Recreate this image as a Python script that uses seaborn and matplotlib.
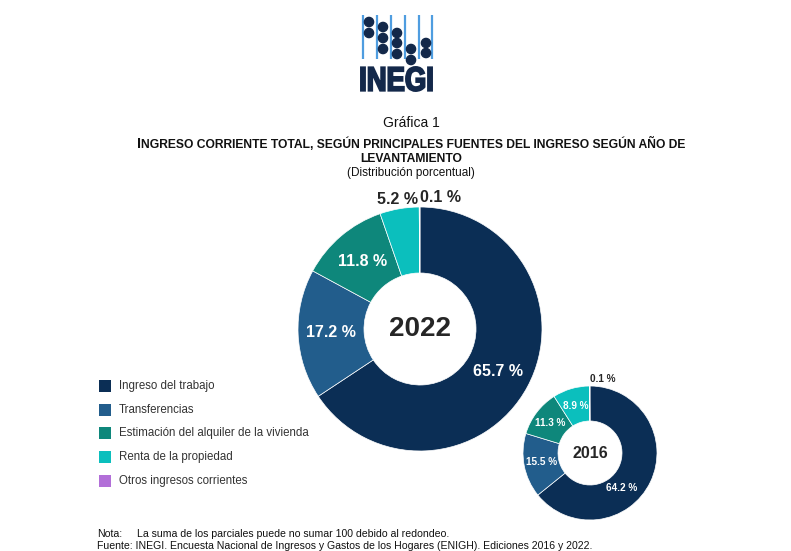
import numpy as np
import matplotlib
matplotlib.use("Agg")
import matplotlib.pyplot as plt
import seaborn as sns
from matplotlib.patches import Circle, Rectangle, PathPatch
from matplotlib.textpath import TextPath
from matplotlib.font_manager import FontProperties
from matplotlib.transforms import Affine2D

# data
categories = ["Ingreso del trabajo", "Transferencias",
              "Estimación del alquiler de la vivienda",
              "Renta de la propiedad", "Otros ingresos corrientes"]
values_2022 = [65.7, 17.2, 11.8, 5.2, 0.1]
values_2016 = [64.2, 15.5, 11.3, 8.9, 0.1]
labels_2022 = ["65.7 %", "17.2 %", "11.8 %", "5.2 %", "0.1 %"]
labels_2016 = ["64.2 %", "15.5 %", "11.3 %", "8.9 %", "0.1 %"]
colors = ["#0b2e55", "#225d8c", "#0e877b", "#0bbfbd", "#b26fd8"]

sns.set_theme(style="white")
plt.rcParams["font.family"] = ["Liberation Sans", "DejaVu Sans"]

W, H = 791, 551
fig = plt.figure(figsize=(W / 100, H / 100), dpi=100)
ax = fig.add_axes([0, 0, 1, 1])
renderer = fig.canvas.get_renderer()


def sy(y):
    # screen y (from top) -> axes y
    return H - y


def text_w(s, size, weight="bold"):
    prop = FontProperties(family="Liberation Sans", weight=weight, size=size)
    w, _, _ = renderer.get_text_width_height_descent(s, prop, ismath=False)
    return w


def drop_first(ax, xc, y, text, big, small):
    # title starts with a slightly bigger first letter
    w1 = text_w(text[0], big)
    w2 = text_w(text[1:], small)
    x = xc - (w1 + w2) / 2
    ax.text(x, y, text[0], ha="left", va="baseline", fontsize=big,
            fontweight="bold", color="#111")
    ax.text(x + w1 + 0.5, y, text[1:], ha="left", va="baseline", fontsize=small,
            fontweight="bold", color="#111")


def draw_logo(ax):
    for x in [363, 377, 391, 405, 419, 432]:
        ax.plot([x, x], [sy(15), sy(59)], color="#4f9de0", lw=1.6, solid_capstyle="butt")
    dots = [(369, 22), (369, 33), (383, 27), (383, 38), (383, 49),
            (397, 33), (397, 43), (397, 54), (411, 49), (411, 60),
            (426, 43), (426, 53)]
    for x, y in dots:
        ax.add_patch(Circle((x, sy(y)), 4.6, color="#13284a", zorder=3))
    tp = TextPath((0, 0), "INEGI", size=10,
                  prop=FontProperties(family="Liberation Sans", weight="bold"))
    bb = tp.get_extents()
    sx = (432 - 361) / bb.width
    syy = (91 - 67) / bb.height
    tr = Affine2D().translate(-bb.x0, -bb.y0).scale(sx, syy).translate(361, sy(91))
    ax.add_patch(PathPatch(tr.transform_path(tp), facecolor="#13284a",
                           edgecolor="#13284a", lw=1.4))


def donut(ax, values, labels, center, R, r_in, year, fs, yfs, overrides):
    cx, cy = center
    wedges, _ = ax.pie(values, colors=colors, startangle=90, counterclock=False,
                       radius=R, center=(cx, cy),
                       wedgeprops=dict(width=R - r_in, edgecolor="white", linewidth=0.5))
    for i, w in enumerate(wedges):
        mid = np.deg2rad((w.theta1 + w.theta2) / 2)
        rr, ha, col, dang = overrides.get(i, ((R + r_in) / 2, "center", "white", 0))
        mid += np.deg2rad(dang)
        ax.text(cx + rr * np.cos(mid), cy + rr * np.sin(mid), labels[i],
                ha=ha, va="center", color=col, fontsize=fs, fontweight="bold")
    ax.text(cx, cy, year, ha="center", va="center", fontsize=yfs,
            fontweight="bold", color="#262626")


draw_logo(ax)

ax.text(411, sy(123), "Gráfica 1", ha="center", va="center", fontsize=10, color="#111")
drop_first(ax, 411, sy(147.5),
           "INGRESO CORRIENTE TOTAL, SEGÚN PRINCIPALES FUENTES DEL INGRESO SEGÚN AÑO DE",
           10.2, 8.7)
ax.text(411, sy(162.5), "LEVANTAMIENTO", ha="center", va="baseline",
        fontsize=8.7, fontweight="bold", color="#111")
ax.text(411, sy(173), "(Distribución porcentual)", ha="center", va="center",
        fontsize=8.5, color="#111")

donut(ax, values_2022, labels_2022, (420, sy(329)), 122, 56, "2022", 11.5, 20,
      {3: (131, "center", "#262626", 0), 4: (132, "left", "#262626", 0)})
donut(ax, values_2016, labels_2016, (590, sy(453)), 67, 32, "2016", 7.2, 11.5,
      {0: (47, "center", "white", -22), 4: (74, "left", "#262626", 0)})

# legend
for i, name in enumerate(categories):
    y = sy(386 + i * 23.7)
    ax.add_patch(Rectangle((99, y - 6), 12, 12, color=colors[i], lw=0))
    ax.text(119, y, name, ha="left", va="center", fontsize=8.3, color="#333")

ax.text(97, sy(534), "Nota:", ha="left", va="center", fontsize=7.6, color="#111")
ax.text(137, sy(534), "La suma de los parciales puede no sumar 100 debido al redondeo.",
        ha="left", va="center", fontsize=7.6, color="#111")
ax.text(97, sy(546), "Fuente: INEGI. Encuesta Nacional de Ingresos y Gastos de los Hogares (ENIGH). Ediciones 2016 y 2022.",
        ha="left", va="center", fontsize=7.6, color="#111")

# pie() resets the limits, so set them last
ax.set_aspect("auto")
ax.set_xlim(0, W)
ax.set_ylim(0, H)
ax.axis("off")

fig.savefig("out.png", dpi=100)
